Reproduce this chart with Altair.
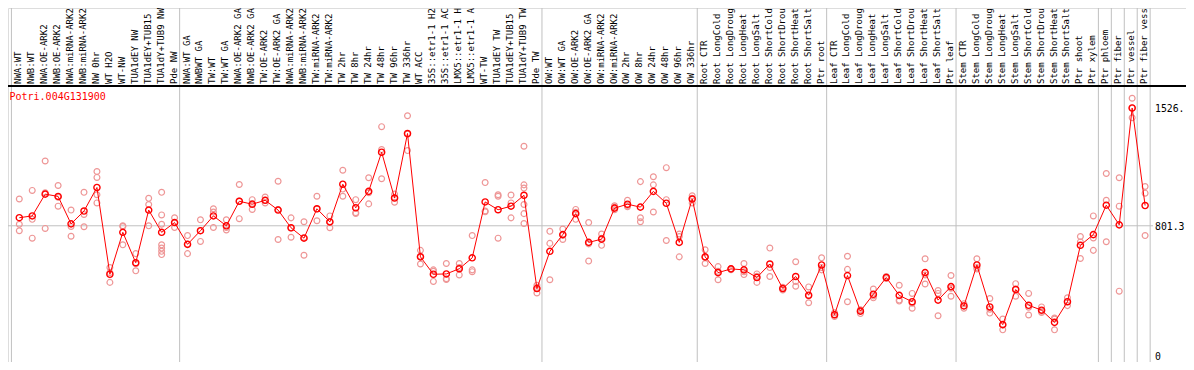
import altair as alt
import pandas as pd

gene = "Potri.004G131900"

labels = [
    "NWA:WT", "NWB:WT", "NWA:OE-ARK2", "NWB:OE-ARK2", "NWA:miRNA-ARK2", "NWB:miRNA-ARK2",
    "NW 0hr", "WT H2O", "WT-NW", "TUA1dEY NW", "TUA1dEY+TUB15", "TUA1dY+TUB9 NW", "Pde NW",
    "NWA:WT GA", "NWBWT GA", "TW:WT", "TW:WT GA", "NWA:OE-ARK2 GA", "NWB:OE-ARK2 GA",
    "TW:OE-ARK2", "TW:OE-ARK2 GA", "NWA:miRNA-ARK2", "NWB:miRNA-ARK2", "TW:miRNA-ARK2",
    "TW:miRNA-ARK2", "TW 2hr", "TW 8hr", "TW 24hr", "TW 48hr", "TW 96hr", "TW 336hr",
    "WT ACC", "35S::etr1-1 H2", "35S::etr1-1 AC", "LMX5::etr1-1 H", "LMX5::etr1-1 A",
    "WT-TW", "TUA1dEY TW", "TUA1dEY+TUB15", "TUA1dY+TUB9 TW", "Pde TW",
    "OW:WT", "OW:WT GA", "OW:OE-ARK2", "OW:OE-ARK2 GA", "OW:miRNA-ARK2", "OW:miRNA-ARK2",
    "OW 2hr", "OW 8hr", "OW 24hr", "OW 48hr", "OW 96hr", "OW 336hr",
    "Root CTR", "Root LongCold", "Root LongDroug", "Root LongHeat", "Root LongSalt",
    "Root ShortCold", "Root ShortDrou", "Root ShortHeat", "Root ShortSalt", "Ptr root",
    "Leaf CTR", "Leaf LongCold", "Leaf LongDroug", "Leaf LongHeat", "Leaf LongSalt",
    "Leaf ShortCold", "Leaf ShortDrou", "Leaf ShortHeat", "Leaf ShortSalt", "Ptr leaf",
    "Stem CTR", "Stem LongCold", "Stem LongDroug", "Stem LongHeat", "Stem LongSalt",
    "Stem ShortCold", "Stem ShortDrou", "Stem ShortHeat", "Stem ShortSalt", "Ptr shoot",
    "Ptr xylem", "Ptr phloem", "Ptr fiber", "Ptr vessel", "Ptr fiber vess",
]

means = [
    851, 862, 996, 982, 813, 892, 1037, 503, 761, 574, 898, 761, 821,
    687, 771, 862, 801, 952, 934, 958, 898, 789, 725, 906, 825, 1057, 912,
    1013, 1254, 972, 1369, 610, 503, 505, 537, 604, 948, 900, 922, 989, 415,
    644, 747, 876, 699, 719, 910, 934, 916, 1013, 940, 699, 966,
    610, 513, 536, 530, 483, 566, 415, 489, 374, 560,
    254, 495, 276, 380, 483, 373, 334, 513, 344, 427,
    308, 560, 302, 193, 409, 312, 282, 207, 334, 681,
    747, 928, 807, 1526, 926,
]

reps = [
    [966, 811, 771], [1019, 841, 725], [1200, 1004, 785], [1049, 977, 922],
    [898, 797, 737], [1007, 871, 795], [1135, 1099, 992, 942], [544, 513, 453],
    [801, 797, 684], [630, 568, 524], [970, 932, 801],
    [1007, 868, 811, 684, 664, 644, 624], [851, 821, 791],
    [741, 688, 630], [838, 771, 705], [906, 886, 791], [838, 791, 775],
    [1055, 954, 845], [962, 938, 902], [978, 958, 942], [1075, 902, 717],
    [850, 787, 731], [826, 729, 620], [983, 904, 832], [862, 826, 789],
    [1143, 1027, 983], [962, 882, 877], [1097, 1004, 936], [1411, 1270, 1091],
    [996, 974, 946], [1478, 1365, 1264], [650, 614, 566], [530, 521, 459],
    [569, 471, 475], [569, 544, 499], [741, 530, 519], [1067, 892, 887],
    [992, 983, 725], [990, 942, 850], [1291, 1053, 1033, 932, 876, 815],
    [435, 421, 388],
    [767, 693, 469], [781, 743, 717], [902, 884, 841], [821, 690, 584],
    [751, 725, 681], [924, 916, 900], [958, 926, 918], [1073, 851, 826],
    [1103, 1053, 886], [1159, 962, 711], [751, 735, 610], [986, 970, 942],
    [654, 606, 569], [550, 521, 469], [537, 536, 531], [569, 518, 501],
    [505, 491, 453], [664, 544, 489], [423, 415, 406], [580, 459, 429],
    [425, 370, 328], [604, 545, 530],
    [266, 254, 243], [614, 533, 334], [284, 276, 261], [412, 370, 358],
    [489, 483, 477], [435, 344, 338], [385, 324, 294], [598, 499, 443],
    [403, 385, 248], [495, 417, 368],
    [322, 308, 294], [598, 545, 536], [354, 288, 264], [228, 191, 161],
    [445, 412, 368], [385, 300, 252], [302, 276, 268], [234, 228, 161],
    [358, 334, 310], [735, 702, 600],
    [862, 726, 650], [1123, 958, 703], [1097, 922, 399], [1586, 1526, 1466],
    [1043, 1002, 741],
]

# group boundaries: a separator follows these sample indices
group_ends = [-1, 12, 40, 52, 62, 72, 83, 84, 85, 86, 87]

ytick_values = [0, 801.3, 1526]
ytick_labels = ["0", "801.3", "1526."]

W, H = 1178, 354
MONO = "DejaVu Sans Mono"

idx = list(range(len(labels)))
df_mean = pd.DataFrame({"i": idx, "label": labels, "value": means})
df_reps = pd.DataFrame(
    [{"i": i, "value": v} for i, rs in enumerate(reps) for v in rs]
)
df_sep = pd.DataFrame({"pos": [g + 0.39 for g in group_ends]})
df_ticks = pd.DataFrame({"value": ytick_values, "text": ytick_labels})
df_grid = pd.DataFrame({"value": [ytick_values[1]]})
df_title = pd.DataFrame({"text": [gene]})

xs = alt.Scale(domain=[0, len(labels) - 1], range=[11.3, 1137.1])
ys = alt.Scale(domain=[0, 1526], range=[348, 100])

X = lambda f: alt.X(f, type="quantitative", scale=xs, axis=None)
Y = lambda f: alt.Y(f, type="quantitative", scale=ys, axis=None)

seps = alt.Chart(df_sep).mark_rule(color="#c0c0c0", strokeWidth=1).encode(
    x=X("pos"), y=alt.value(0), y2=alt.value(H)
)

grid = alt.Chart(df_grid).mark_rule(color="#c0c0c0", strokeWidth=1).encode(
    y=Y("value"), x=alt.value(0), x2=alt.value(1145)
)

rep_pts = alt.Chart(df_reps).mark_point(
    shape="circle", filled=False, size=34, strokeWidth=1.2, color="#ee9696", opacity=1
).encode(x=X("i"), y=Y("value"))

line = alt.Chart(df_mean).mark_line(color="#ff0000", strokeWidth=1).encode(
    x=X("i"), y=Y("value"), order="i:Q"
)

mean_pts = alt.Chart(df_mean).mark_point(
    shape="circle", filled=False, size=38, strokeWidth=1.4, color="#ff0000", opacity=1
).encode(x=X("i"), y=Y("value"))

xlabels = alt.Chart(df_mean).mark_text(
    angle=270, align="left", baseline="middle", font=MONO, fontSize=9,
    color="black", dy=-1
).encode(x=X("i"), y=alt.value(76), text="label:N")

title = alt.Chart(df_title).mark_text(
    align="left", baseline="middle", font=MONO, fontSize=10, color="#ff0000"
).encode(x=alt.value(1.5), y=alt.value(89), text="text:N")

ylabels = alt.Chart(df_ticks).mark_text(
    align="left", baseline="middle", font=MONO, fontSize=9.8, color="black", dy=1
).encode(x=alt.value(1147), y=Y("value"), text="text:N")

header_rule = alt.Chart(df_title).mark_rule(color="black", strokeWidth=2).encode(
    y=alt.value(78), x=alt.value(0), x2=alt.value(W)
)

chart = (
    alt.layer(seps, grid, rep_pts, line, mean_pts, xlabels, title, ylabels, header_rule)
    .properties(width=W, height=H, padding=0,
                autosize=alt.AutoSizeParams(type="none"))
    .configure_view(stroke="black", strokeWidth=2)
    .configure(background="white")
)

chart.save("out.html", embed_options={"renderer": "svg", "actions": False})
